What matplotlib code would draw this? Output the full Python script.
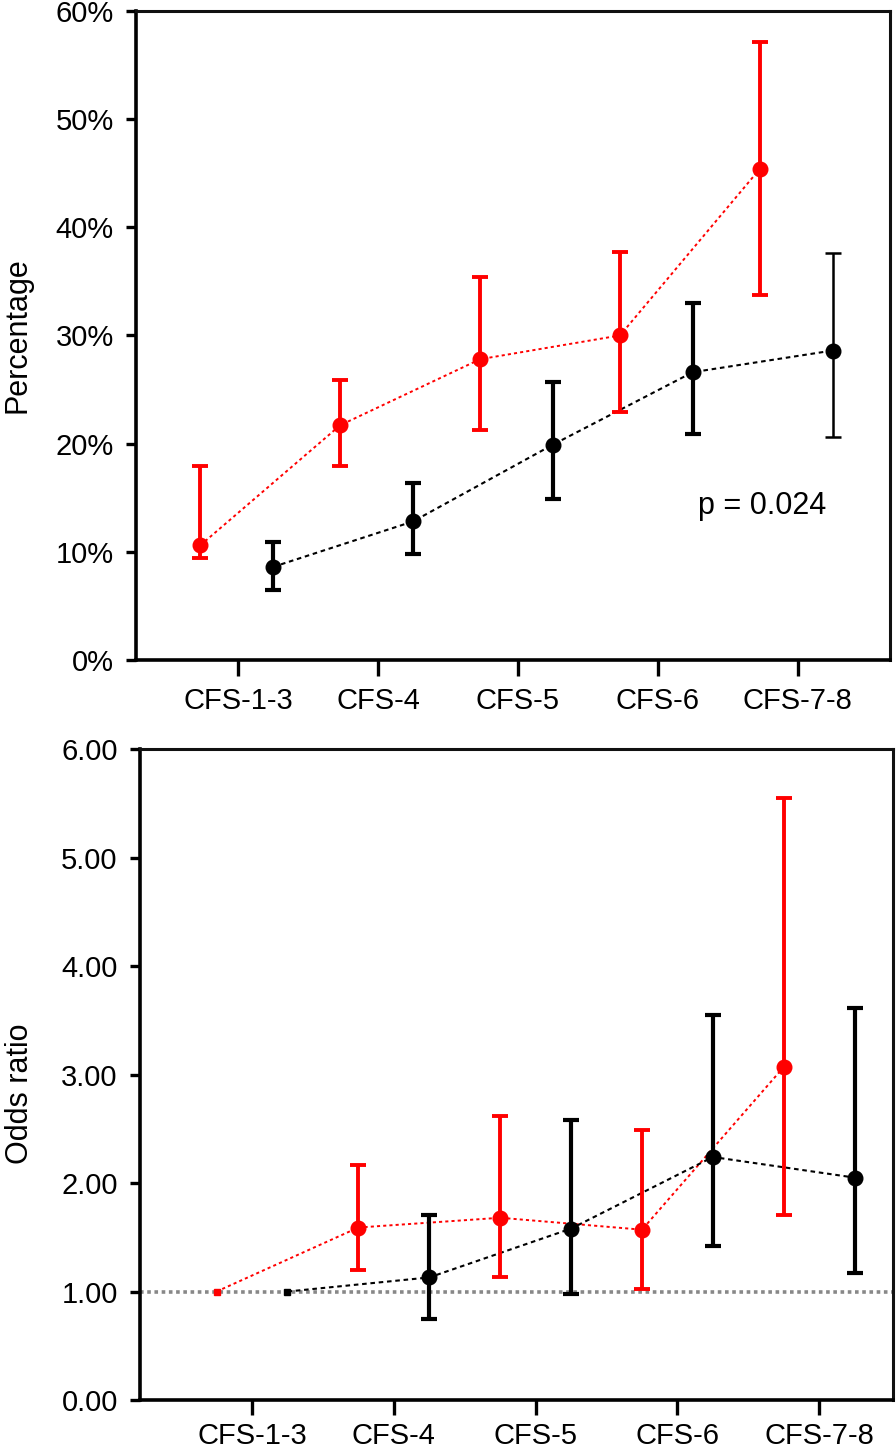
import numpy as np
import matplotlib
matplotlib.use('Agg')
import matplotlib.pyplot as plt
from matplotlib.ticker import FuncFormatter

plt.rcParams['font.family'] = ['Liberation Sans', 'DejaVu Sans']

# ── data ───────────────────────────────────────────────────────
categories = ["CFS-1-3", "CFS-4", "CFS-5", "CFS-6", "CFS-7-8"]

pct_red    = [10.6, 21.7, 27.8, 30.0, 45.4]
pct_red_lo = [9.4, 17.9, 21.3, 22.9, 33.7]
pct_red_hi = [17.9, 25.9, 35.4, 37.7, 57.1]
pct_blk    = [8.6, 12.8, 19.9, 26.6, 28.6]
pct_blk_lo = [6.5, 9.8, 14.9, 20.9, 20.6]
pct_blk_hi = [10.9, 16.4, 25.7, 33.0, 37.6]

or_red    = [1.00, 1.59, 1.68, 1.57, 3.07]
or_red_lo = [1.00, 1.20, 1.13, 1.02, 1.71]
or_red_hi = [1.00, 2.17, 2.62, 2.49, 5.55]
or_blk    = [1.00, 1.13, 1.58, 2.24, 2.05]
or_blk_lo = [1.00, 0.745, 0.98, 1.42, 1.17]
or_blk_hi = [1.00, 1.71, 2.58, 3.55, 3.61]

p_text = "p = 0.024"

RED = '#ff0000'
BLK = '#000000'

fig = plt.figure(figsize=(8.96, 14.52), dpi=100)
ax1 = fig.add_axes([0.1518, 0.5455, 0.8415, 0.4470])
ax2 = fig.add_axes([0.15625, 0.0358, 0.8404, 0.4483])

def style_axes(ax, xtick_len, xpad):
    for s in ['left', 'bottom']:
        ax.spines[s].set_linewidth(2.6)
        ax.spines[s].set_color('black')
    for s in ['top', 'right']:
        ax.spines[s].set_linewidth(2.2)
        ax.spines[s].set_color('#111111')
    ax.tick_params(axis='y', direction='out', length=7, width=2.4, labelsize=21, pad=9)
    ax.tick_params(axis='x', direction='out', length=xtick_len, width=2.4, labelsize=21, pad=xpad)
    ax.set_xticks(range(len(categories)))
    ax.set_xticklabels(categories)

def draw_series(ax, x, y, lo, hi, color, lw_bar, idx, ms=10.5):
    y = np.asarray(y); lo = np.asarray(lo); hi = np.asarray(hi); x = np.asarray(x)
    err = [y[idx] - lo[idx], hi[idx] - y[idx]]
    ax.errorbar(x[idx], y[idx], yerr=err, fmt='o', color=color, ms=ms,
                elinewidth=lw_bar, capsize=5.5, capthick=lw_bar, zorder=3)

# ── top panel: percentage ─────────────────────────────────────
n = len(categories)
xr = np.arange(n) - 0.27
xb = np.arange(n) + 0.25

ax1.plot(xr, pct_red, ls=(0, (1.6, 1.6)), color=RED, lw=1.4, zorder=2)
ax1.plot(xb, pct_blk, ls=(0, (2.2, 1.8)), color=BLK, lw=1.5, zorder=2)
draw_series(ax1, xr, pct_red, pct_red_lo, pct_red_hi, RED, 2.8, slice(0, n))
draw_series(ax1, xb, pct_blk, pct_blk_lo, pct_blk_hi, BLK, 3.0, slice(0, n - 1))
draw_series(ax1, xb, pct_blk, pct_blk_lo, pct_blk_hi, BLK, 1.8, slice(n - 1, n))

ax1.set_xlim(-0.73, 4.66)
ax1.set_ylim(0, 60)
ax1.set_yticks(np.arange(0, 61, 10))
ax1.yaxis.set_major_formatter(FuncFormatter(lambda v, p: f"{v:.0f}%"))
style_axes(ax1, 11.5, 8)
ax1.set_ylabel("Percentage", fontsize=22)
ax1.yaxis.set_label_coords(-0.137, 0.5)
ax1.text(3.29, 14.2, p_text, fontsize=22, ha='left', va='center')

# ── bottom panel: odds ratio ──────────────────────────────────
xr2 = np.arange(n) - 0.25
xb2 = np.arange(n) + 0.25

ax2.axhline(1.0, color='#888888', lw=2.6, ls=(0, (1, 1)), zorder=1)
ax2.plot(xr2, or_red, ls=(0, (1.6, 1.6)), color=RED, lw=1.4, zorder=2)
ax2.plot(xb2, or_blk, ls=(0, (2.2, 1.8)), color=BLK, lw=1.5, zorder=2)
draw_series(ax2, xr2, or_red, or_red_lo, or_red_hi, RED, 2.8, slice(1, n))
draw_series(ax2, xb2, or_blk, or_blk_lo, or_blk_hi, BLK, 3.0, slice(1, n))
ax2.plot(xr2[:1], or_red[:1], 's', color=RED, ms=4, zorder=3)
ax2.plot(xb2[:1], or_blk[:1], 's', color=BLK, ms=4, zorder=3)

ax2.set_xlim(-0.79, 4.52)
ax2.set_ylim(0, 6)
ax2.set_yticks(np.arange(0, 6.01, 1))
ax2.yaxis.set_major_formatter(FuncFormatter(lambda v, p: f"{v:.2f}"))
style_axes(ax2, 11, 5)
ax2.set_ylabel("Odds ratio", fontsize=22)
ax2.yaxis.set_label_coords(-0.14, 0.47)

fig.savefig("out.png", dpi=100)
